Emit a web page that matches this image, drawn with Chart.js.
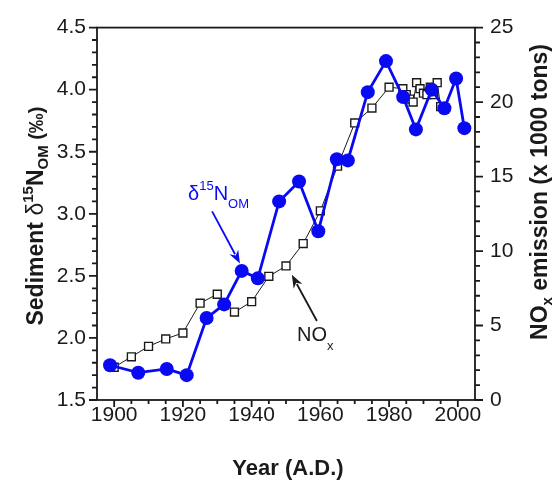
<!DOCTYPE html>
<html>
<head>
<meta charset="utf-8">
<script src="https://cdn.jsdelivr.net/npm/chart.js@4.4.1/dist/chart.umd.min.js"></script>
<style>
    html, body { margin: 0; padding: 0; background: #fff; }
    #wrap { width: 552px; height: 483px; }
</style>
</head>
<body>
<div id="wrap"><canvas id="chart" width="552" height="483"></canvas></div>
<script>
// sediment d15N of organic matter (left axis)
const deltaYears = [1898.8, 1907.0, 1915.3, 1921.1, 1926.9, 1932.0, 1937.1, 1941.8, 1948.0, 1953.8, 1959.4,
    1964.8, 1968.0, 1973.8, 1979.1, 1984.1, 1987.8, 1992.4, 1996.1, 1999.5, 2001.9];
const deltaValues = [1.78, 1.72, 1.75, 1.70, 2.16, 2.27, 2.54, 2.48, 3.10, 3.26, 2.86,
    3.44, 3.43, 3.98, 4.23, 3.94, 3.68, 4.00, 3.85, 4.09, 3.69];

// NOx emission, x 1000 tons (right axis)
const noxYears = [1900, 1905, 1910, 1915, 1920, 1925, 1930, 1935, 1940, 1945, 1950, 1955, 1960, 1965, 1970, 1975, 1980,
    1984, 1985, 1986, 1987, 1988, 1989, 1990, 1991, 1992, 1993, 1994, 1995];
const noxValues = [2.2, 2.9, 3.6, 4.1, 4.5, 6.5, 7.1, 5.9, 6.6, 8.3, 9.0, 10.5, 12.7, 15.7, 18.6, 19.6, 21.0,
    20.9, 20.5, 20.2, 20.0, 21.3, 20.9, 20.6, 20.5, 21.0, 20.5, 21.3, 19.7];

const yearTicks = [1900, 1920, 1940, 1960, 1980, 2000];
const deltaTicks = [1.5, 2.0, 2.5, 3.0, 3.5, 4.0, 4.5];
const noxTicks = [0, 5, 10, 15, 20, 25];

const FONT = '"Liberation Sans", Arial, Helvetica, sans-serif';
const BLUE = '#0a0af2';
const INK = '#1a1a1a';

function fontStr(size, bold) {
    return (bold ? 'bold ' : '') + size + 'px ' + FONT;
}

// draw a run of text pieces (for super/subscripts); align 'left' or 'center'
function drawRich(ctx, parts, x, y, align) {
    let total = 0;
    parts.forEach(function (p) {
        ctx.font = fontStr(p.size, p.bold);
        p.w = ctx.measureText(p.t).width;
        total += p.w;
    });
    let cx = align === 'center' ? x - total / 2 : x;
    parts.forEach(function (p) {
        ctx.font = fontStr(p.size, p.bold);
        ctx.fillText(p.t, cx, y + (p.dy || 0));
        cx += p.w;
    });
}

function drawArrow(ctx, x1, y1, x2, y2, color) {
    const ang = Math.atan2(y2 - y1, x2 - x1);
    const head = 13, half = 5;
    ctx.strokeStyle = color;
    ctx.fillStyle = color;
    ctx.lineWidth = 1.8;
    ctx.beginPath();
    ctx.moveTo(x1, y1);
    ctx.lineTo(x2 - Math.cos(ang) * head * 0.8, y2 - Math.sin(ang) * head * 0.8);
    ctx.stroke();
    ctx.beginPath();
    ctx.moveTo(x2, y2);
    ctx.lineTo(x2 - Math.cos(ang) * head - Math.sin(ang) * half, y2 - Math.sin(ang) * head + Math.cos(ang) * half);
    ctx.lineTo(x2 - Math.cos(ang) * head * 0.7, y2 - Math.sin(ang) * head * 0.7);
    ctx.lineTo(x2 - Math.cos(ang) * head + Math.sin(ang) * half, y2 - Math.sin(ang) * head - Math.cos(ang) * half);
    ctx.closePath();
    ctx.fill();
}

const framePlugin = {
    id: 'frame',
    afterDraw: function (chart) {
        const ctx = chart.ctx;
        const area = chart.chartArea;
        const sx = chart.scales.x, sy = chart.scales.y, sy2 = chart.scales.y2;
        ctx.save();

        // box
        ctx.strokeStyle = INK;
        ctx.lineWidth = 1.8;
        ctx.strokeRect(area.left, area.top, area.right - area.left, area.bottom - area.top);

        // major + minor ticks, pointing outward
        ctx.beginPath();
        for (let v = 1900; v <= 2000; v += 5) {
            const px = sx.getPixelForValue(v);
            ctx.moveTo(px, area.bottom);
            ctx.lineTo(px, area.bottom + (v % 20 === 0 ? 7 : 4));
        }
        for (let i = 0; i <= 30; i++) {
            const py = sy.getPixelForValue(1.5 + i * 0.1);
            ctx.moveTo(area.left, py);
            ctx.lineTo(area.left - (i % 5 === 0 ? 8 : 5), py);
        }
        for (let v = 0; v <= 25; v++) {
            const py = sy2.getPixelForValue(v);
            ctx.moveTo(area.right, py);
            ctx.lineTo(area.right + (v % 5 === 0 ? 8 : 5), py);
        }
        ctx.stroke();

        // axis titles
        ctx.fillStyle = INK;
        ctx.textBaseline = 'alphabetic';
        drawRich(ctx, [{ t: 'Year (A.D.)', size: 22, bold: true }], (area.left + area.right) / 2 + 2, 475, 'center');

        ctx.save();
        ctx.translate(43, 216);
        ctx.rotate(-Math.PI / 2);
        drawRich(ctx, [
            { t: 'Sediment ', size: 23, bold: true },
            { t: 'δ', size: 23, bold: false },
            { t: '15', size: 15, bold: true, dy: -10 },
            { t: 'N', size: 23, bold: true },
            { t: 'OM', size: 15, bold: true, dy: 5 },
            { t: ' (‰)', size: 20, bold: true }
        ], 0, 0, 'center');
        ctx.restore();

        ctx.save();
        ctx.translate(547, 192);
        ctx.rotate(-Math.PI / 2);
        drawRich(ctx, [
            { t: 'NO', size: 23, bold: true },
            { t: 'x', size: 15, bold: true, dy: 5 },
            { t: ' emission (x 1000 tons)', size: 23, bold: true }
        ], 0, 0, 'center');
        ctx.restore();

        // annotations, placed in data units
        ctx.fillStyle = BLUE;
        drawRich(ctx, [
            { t: 'δ', size: 20 },
            { t: '15', size: 13, dy: -10 },
            { t: 'N', size: 20 },
            { t: 'OM', size: 13, dy: 8 }
        ], sx.getPixelForValue(1921.5), sy.getPixelForValue(3.11), 'left');
        drawArrow(ctx, sx.getPixelForValue(1928.5), sy.getPixelForValue(3.02),
            sx.getPixelForValue(1936.6), sy.getPixelForValue(2.60), BLUE);

        ctx.fillStyle = INK;
        drawRich(ctx, [
            { t: 'NO', size: 20 },
            { t: 'x', size: 13, dy: 9 }
        ], sx.getPixelForValue(1953.2), sy2.getPixelForValue(3.97), 'left');
        drawArrow(ctx, sx.getPixelForValue(1959.0), sy2.getPixelForValue(5.3),
            sx.getPixelForValue(1951.7), sy2.getPixelForValue(8.4), INK);

        ctx.restore();
    }
};

function fixedTicks(values) {
    return function (scale) {
        scale.ticks = values.map(function (v) { return { value: v }; });
    };
}

const tickFont = { family: FONT, size: 21 };

new Chart(document.getElementById('chart'), {
    type: 'line',
    data: {
        datasets: [{
            label: 'NOx',
            data: noxYears.map(function (x, i) { return { x: x, y: noxValues[i] }; }),
            yAxisID: 'y2',
            borderColor: INK,
            borderWidth: 1,
            pointStyle: 'rect',
            pointRadius: 5.6,
            pointBorderWidth: 1.4,
            pointBorderColor: INK,
            pointBackgroundColor: '#fff',
            order: 2
        }, {
            label: 'δ15N OM',
            data: deltaYears.map(function (x, i) { return { x: x, y: deltaValues[i] }; }),
            yAxisID: 'y',
            borderColor: BLUE,
            borderWidth: 2.8,
            pointRadius: 7,
            pointBorderWidth: 0,
            pointBackgroundColor: BLUE,
            order: 1
        }]
    },
    options: {
        responsive: false,
        animation: false,
        devicePixelRatio: 1,
        layout: { padding: { top: 22, left: 0, right: 0, bottom: 0 } },
        plugins: {
            legend: { display: false },
            tooltip: { enabled: false }
        },
        scales: {
            x: {
                type: 'linear',
                position: 'bottom',
                min: 1895,
                max: 2005,
                afterBuildTicks: fixedTicks(yearTicks),
                afterFit: function (s) { s.height = 83; },
                grid: { display: false, drawTicks: false },
                border: { display: false },
                ticks: {
                    padding: 3,
                    font: tickFont,
                    color: INK,
                    maxRotation: 0,
                    autoSkip: false,
                    callback: function (v) { return String(v); }
                }
            },
            y: {
                position: 'left',
                min: 1.5,
                max: 4.5,
                afterBuildTicks: fixedTicks(deltaTicks),
                afterFit: function (s) { s.width = 97; },
                grid: { display: false, drawTicks: false },
                border: { display: false },
                ticks: {
                    padding: 11,
                    font: tickFont,
                    color: INK,
                    callback: function (v) { return Number(v).toFixed(1); }
                }
            },
            y2: {
                position: 'right',
                min: 0,
                max: 25,
                afterBuildTicks: fixedTicks(noxTicks),
                afterFit: function (s) { s.width = 77; },
                grid: { display: false, drawTicks: false },
                border: { display: false },
                ticks: {
                    padding: 15,
                    font: tickFont,
                    color: INK,
                    callback: function (v) { return String(v); }
                }
            }
        }
    },
    plugins: [framePlugin]
});
</script>
</body>
</html>
